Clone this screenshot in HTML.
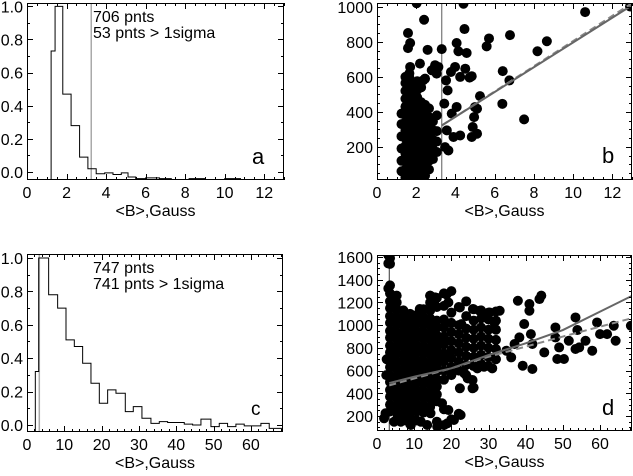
<!DOCTYPE html>
<html><head><meta charset="utf-8">
<style>
html,body{margin:0;padding:0;background:#fff;}
svg{display:block;font-family:"Liberation Sans",Arial,sans-serif;}
</style></head>
<body>
<svg id="fig" width="633" height="476" viewBox="0 0 633 476" xmlns="http://www.w3.org/2000/svg"></svg>
<script>
// ---- Panel a histogram ----
const aEdges = [1.22,1.42,1.81,2.23,2.66,3.08,3.50,3.93,4.35,4.77,5.11,5.5,6.0,6.7,7.3,8.2,9.0,10.0,10.8,11.5,13];
const aValues = [0.73,1.0,0.47,0.28,0.09,0.02,-0.01,-0.005,-0.015,-0.005,-0.03,-0.04,-0.035,-0.04,-0.045,-0.04,-0.045,-0.04,-0.045,-0.045];
const aXTicks = [0,2,4,6,8,10,12];
const aYTicks = ["0.0","0.2","0.4","0.6","0.8","1.0"];
// ---- Panel c histogram ----
const cEdges = [2.23,3.13,5.80,8.21,10.45,12.68,14.91,17.14,19.38,21.61,23.84,26.34,28.48,30.80,33.21,35.45,37.68,39.91,42.14,44.38,46.61,49.29,51.52,53.75,55.98,58.21,60.45,62.68,64.91,68.5];
const cValues = [0.32,1.0,0.78,0.70,0.51,0.47,0.37,0.25,0.13,0.21,0.19,0.08,0.11,0.04,0.01,0.02,0.015,0.015,0.005,0.0,0.035,-0.01,0.01,-0.01,0.005,-0.005,-0.005,0.01,-0.02];
const cXTicks = [0,10,20,30,40,50,60];
const cYTicks = ["0.0","0.2","0.4","0.6","0.8","1.0"];
// ---- Panel b scatter (columns of points: [x, [y...]]) ----
const bColumns = [
 [1.25,[60,120,190,260,330,390]],
 [1.45,[25,70,115,160,205,250,295,340,385,430,475,520,565,600]],
 [1.65,[20,60,100,145,190,235,280,325,370,415,460,505,550,595,620]],
 [1.85,[18,58,98,140,182,224,266,308,350,392,434,476,518,560]],
 [2.05,[20,62,104,146,188,230,272,314,356,398,440,482,525,575]],
 [2.25,[25,68,111,154,197,240,283,326,369,412,455,540]],
 [2.45,[35,80,125,170,215,260,305,350,395,440,590]],
 [2.65,[70,120,170,220,270,320,370,420]],
 [2.85,[130,185,240,295,345]],
 [3.05,[170,230,290,380]]
];
const bOutliers = [[2.02,1022],[2.40,927],[1.58,851],[1.69,794],[1.58,765],[2.58,755],[3.30,759],[4.41,1019],[4.46,874],[4.06,794],[4.15,747],[4.57,737],[5.59,775],[5.71,820],[6.78,839],[8.18,747],[8.66,804],[10.61,971],[12.9,1003],[6.41,633],[6.75,580],[6.39,446],[7.5,357],[5.25,490],[4.99,427],[5.1,418],[4.95,370],[4.88,313],[5.1,275],[4.83,256],[4.24,265],[3.9,256],[3.64,179],[3.47,198],[3.56,294],[3.81,390],[4.06,428],[3.43,447],[3.6,523],[3.52,580],[3.77,628],[3.13,657],[2.96,667],[4.5,647],[4.72,596],[4.24,600],[4.83,604],[3.98,657],[3.04,619],[2.19,676],[1.69,657],[2.79,638],[2.36,581]];
const bFitSolid = [[3.3,322],[13,1010]];
const bFitDashed = [[3.3,322],[13,1022]];
const bXTicks = [0,2,4,6,8,10,12];
const bYTicks = [200,400,600,800,1000];
// ---- Panel d scatter ----
const dColumns = [
 [3.5,[240,300,370,430,500,560,630,690,760,820,890,950,1020,1080,1150,1210,1280,1350,1540,1590]],
 [5.3,[170,230,290,360,420,490,550,620,680,750,810,880,940,1010,1070,1140,1200,1260]],
 [7.1,[160,220,290,350,420,480,550,610,680,740,810,870,940,1000,1070,1130]],
 [8.9,[130,190,260,320,390,450,520,580,650,710,780,840,910,970,1040,1100]],
 [10.7,[160,240,300,370,430,500,560,630,690,760,820,890,950,1020,1090]],
 [12.5,[230,290,360,420,490,550,620,680,750,810,880,940,1010,1070,1140]],
 [14.3,[280,350,410,480,540,610,670,740,800,870,930,1000,1060,1130,1200,1260]],
 [16.1,[150,330,390,460,520,590,650,720,780,850,910,980,1040,1160,1240]],
 [18,[120,260,520,600,680,750,830,900,980,1050,1170,1280]],
 [20,[170,560,630,710,780,860,940,1020,1110,1300]],
 [22,[220,600,680,760,840,920,1000,1160]],
 [24,[560,650,730,810,890,970,1080,1210]],
 [26,[450,640,720,800,880,960,1040,1140]],
 [28,[660,740,820,900,980,1060,1130]],
 [30,[640,720,800,880,960,1050,1110]],
 [32,[700,790,870,960,1040,1120]]
];
const dOutliers = [[3.05,1617],[3.05,1544],[3.05,1324],[14.3,1259],[15.6,1245],[19.2,1200],[18.7,1270],[11.5,1142],[22.3,1156],[22.7,1009],[25.8,1142],[27.6,1127],[29,1083],[30.3,1112],[31.6,1024],[33,1127],[37.9,1215],[41,1186],[41,1127],[43.7,1230],[44.2,1260],[39.6,1010],[38.3,892],[37,834],[34.8,775],[36.1,716],[41.4,921],[41.8,834],[39.2,643],[41.8,614],[45,760],[48,980],[48,892],[49,804],[48.5,702],[50.3,702],[51.6,863],[53.4,1068],[53.9,957],[54.4,804],[53.4,790],[56.1,863],[57.9,775],[59.2,1024],[60,921],[61.9,921],[63.7,995],[64.2,863],[68.3,995],[25.7,444],[23.5,576],[24.4,532],[25.7,517],[22.3,444],[28.8,634],[31,620],[27,620],[31.9,702],[4.6,150],[6.4,150],[9.1,121],[11.8,150],[13.5,121],[16.2,106],[18.9,135],[20.7,165],[22.5,209],[19.2,253],[17.5,312],[14.4,224],[11.7,282],[8.0,224],[4.6,253],[2.3,224],[1.9,180],[2.6,700],[2.5,560]];
const dFitSolid = [[3.3,490],[10,546],[20,620],[30,737],[40,840],[50,957],[69,1265]];
const dFitDashed = [[3.3,470],[20,620],[30,722],[50,900],[69,1065]];
const dXTicks = [0,10,20,30,40,50,60];
const dYTicks = [200,400,600,800,1000,1200,1400,1600];

const NS = "http://www.w3.org/2000/svg";
const svg = document.getElementById("fig");
const DOT_R = 5;
function mk(tag, attrs, parent){
  const e = document.createElementNS(NS, tag);
  for (const k in attrs) e.setAttribute(k, attrs[k]);
  (parent||svg).appendChild(e);
  return e;
}
function panel(p){
  const g = mk("g", {});
  
  
  p.sx = v => p.l + (v - p.x0) / (p.x1 - p.x0) * (p.r - p.l);
  p.sy = v => p.b - (v - p.y0) / (p.y1 - p.y0) * (p.b - p.t);
  p.g = g;
  const cid = "clip-" + p.name;
  const cp = mk("clipPath", {id: cid}, g);
  mk("rect", {x:p.l, y:p.t, width:p.r-p.l, height:p.b-p.t}, cp);
  p.plot = mk("g", {"clip-path": "url(#" + cid + ")"}, g);
  return p;
}
function frame(p, xTicks, xMinor, yTicks, yMinor){
  const g = p.g;
  const ax = mk("g", {stroke:"#000", "stroke-width":"1"}, g);
  
  
  mk("rect", {x:p.l+0.5, y:p.t+0.5, width:p.r-p.l-1, height:p.b-p.t-1, fill:"none", stroke:"#000"}, ax);
  for (let v = p.x0; v <= p.x1 + 1e-9; v += xMinor){
    const x = Math.round(p.sx(v)) + 0.5;
    const major = xTicks.some(t => Math.abs(t - v) < 1e-6);
    const len = major ? 6 : 3;
    mk("line", {x1:x, y1:p.b, x2:x, y2:p.b-len}, ax);
    mk("line", {x1:x, y1:p.t, x2:x, y2:p.t+len}, ax);
  }
  const yMajVals = yTicks.map(Number);
  const ys = Math.ceil(p.y0 / yMinor) * yMinor;
  for (let v = ys; v <= p.y1 + 1e-9; v += yMinor){
    const y = Math.round(p.sy(v)) + 0.5;
    const major = yMajVals.some(t => Math.abs(t - v) < 1e-6);
    const len = major ? 6 : 3;
    mk("line", {x1:p.l, y1:y, x2:p.l+len, y2:y}, ax);
    mk("line", {x1:p.r, y1:y, x2:p.r-len, y2:y}, ax);
  }
  xTicks.forEach(t => {
    const tx = mk("text", {x:p.sx(t), y:p.b+18, "text-anchor":"middle", "font-size":"16", fill:"#000"}, g);
    
    
    tx.textContent = t;
  });
  yTicks.forEach(t => {
    const ty = mk("text", {x:p.l-4, y:p.sy(Number(t))+6, "text-anchor":"end", "font-size":"16", fill:"#000"}, g);
    
    
    ty.textContent = t;
  });
  const xt = mk("text", {x:(p.l+p.r)/2, y:p.b+36, "text-anchor":"middle", "font-size":"16", fill:"#000"}, g);
  
  
  xt.textContent = "<B>,Gauss";
}
function hist(p, edges, values){
  let d = "M" + p.sx(edges[0]) + "," + p.b;
  for (let i = 0; i < values.length; i++){
    d += " L" + p.sx(edges[i]) + "," + p.sy(values[i]) + " L" + p.sx(edges[i+1]) + "," + p.sy(values[i]);
  }
  const h = mk("path", {d:d, fill:"none", stroke:"#000", "stroke-width":"1"}, p.plot);
  
  
}
function vline(p, x, color, w){
  const l = mk("line", {x1:p.sx(x), y1:p.t, x2:p.sx(x), y2:p.b, stroke:color, "stroke-width":w}, p.plot);
  
  
}
function dots(p, columns, outliers){
  const g = mk("g", {fill:"#000"}, p.plot);
  
  
  columns.forEach(c => c[1].forEach(y => {
    const pt = mk("circle", {cx:p.sx(c[0]), cy:p.sy(y), r:DOT_R}, g);
    
    
  }));
  outliers.forEach(o => {
    const pt = mk("circle", {cx:p.sx(o[0]), cy:p.sy(o[1]), r:DOT_R}, g);
    
    
  });
}
function fit(p, pts, dashed, name){
  const d = pts.map((q,i) => (i?"L":"M") + p.sx(q[0]) + "," + p.sy(q[1])).join(" ");
  const attrs = {d:d, fill:"none", stroke:dashed?"#888":"#666", "stroke-width":"2"};
  if (dashed) attrs["stroke-dasharray"] = "7,4";
  const l = mk("path", attrs, p.plot);
  
  
}
function label(p, x, y, txt, size, name){
  const t = mk("text", {x:x, y:y, "font-size":size, fill:"#000"}, p.g);
  
  
  t.textContent = txt;
}

// Panel a
const A = panel({name:"panel-a", l:27, r:284, t:3, b:180, x0:0, x1:13, y0:-0.048, y1:1.02});
vline(A, 3.25, "#aaa", 1.5);
hist(A, aEdges, aValues);
frame(A, aXTicks, 0.5, aYTicks, 0.1);
label(A, 93, 22, "706 pnts", 16, "count-label");
label(A, 93, 38, "53 pnts > 1sigma", 16, "sigma-count-label");
label(A, 252, 164, "a", 22, "panel-letter");

// Panel b
const B = panel({name:"panel-b", l:377, r:632, t:3, b:180, x0:0, x1:13, y0:10, y1:1023});
vline(B, 3.3, "#777", 1.2);
dots(B, bColumns, bOutliers);
fit(B, bFitDashed, true, "fit-line-dashed");
fit(B, bFitSolid, false, "fit-line-solid");
frame(B, bXTicks, 0.5, bYTicks, 50);
label(B, 602, 163, "b", 22, "panel-letter");

// Panel c
const C = panel({name:"panel-c", l:27, r:283, t:254, b:432, x0:0, x1:68.6, y0:-0.042, y1:1.024});
vline(C, 3.3, "#aaa", 1.5);
hist(C, cEdges, cValues);
frame(C, cXTicks, 2, cYTicks, 0.1);
label(C, 93, 273, "747 pnts", 16, "count-label");
label(C, 93, 289, "741 pnts > 1sigma", 16, "sigma-count-label");
label(C, 251, 415, "c", 19, "panel-letter");

// Panel d
const D = panel({name:"panel-d", l:377, r:632, t:255, b:431, x0:0, x1:68.6, y0:68, y1:1618});
vline(D, 3.3, "#333", 1);
dots(D, dColumns, dOutliers);
fit(D, dFitDashed, true, "fit-line-dashed");
fit(D, dFitSolid, false, "fit-line-solid");
frame(D, dXTicks, 2, dYTicks, 50);
label(D, 602, 415, "d", 22, "panel-letter");
</script>
</body></html>
